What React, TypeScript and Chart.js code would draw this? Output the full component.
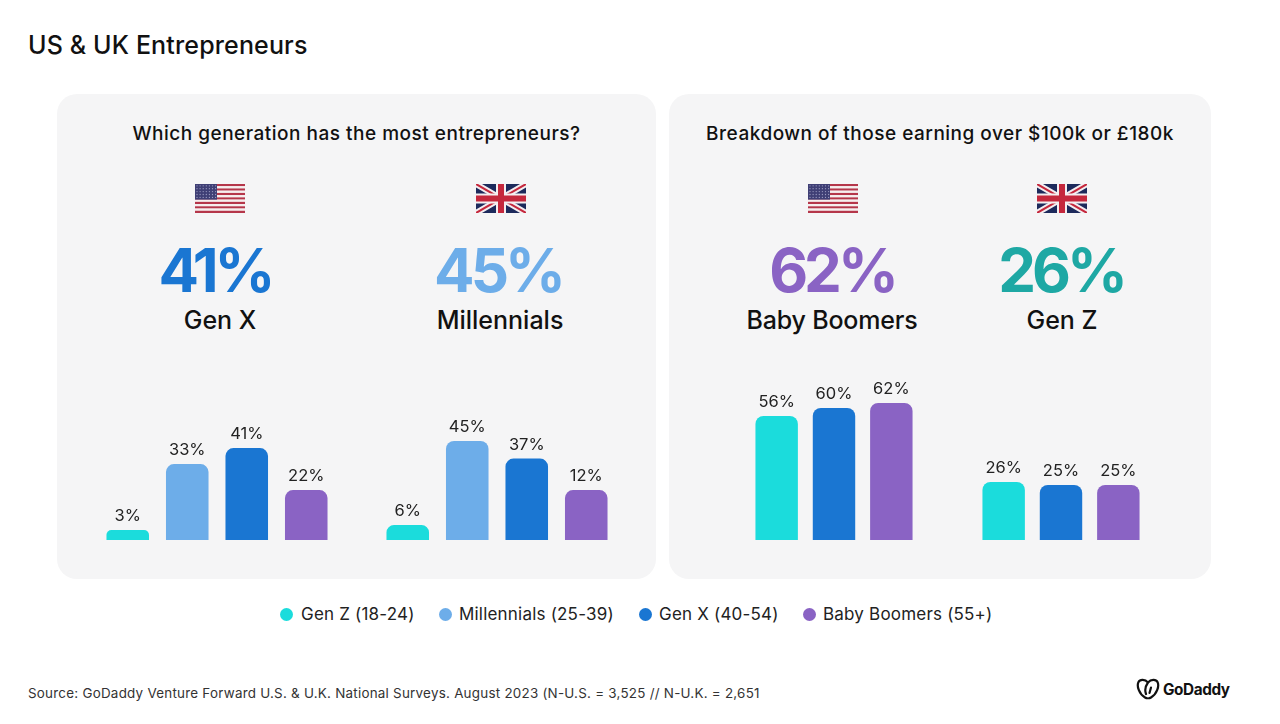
import React, { useEffect, useRef } from "react";
import { Chart, registerables } from "chart.js";

Chart.register(...registerables);

const TEAL = "#1bdcdc";
const SKY = "#6dade9";
const BLUE = "#1a76d2";
const PURPLE = "#8a63c4";
const DEEP_TEAL = "#1ea8a4";
const INK = "#111111";
const FONT = "Inter, 'Noto Sans', sans-serif";

const generations4 = ["Gen Z", "Millennials", "Gen X", "Baby Boomers"];
const generations3 = ["Gen Z", "Gen X", "Baby Boomers"];
const colors4 = [TEAL, SKY, BLUE, PURPLE];
const colors3 = [TEAL, BLUE, PURPLE];

// Printed labels, and bar heights as drawn in the picture (they differ a little from the labels).
const usMostLabels = ["3%", "33%", "41%", "22%"];
const usMostBars = [4.5, 34.5, 41.8, 22.7];
const ukMostLabels = ["6%", "45%", "37%", "12%"];
const ukMostBars = [6.8, 45, 37, 22.7];
const usEarnLabels = ["56%", "60%", "62%"];
const usEarnBars = [56.4, 60, 62.3];
const ukEarnLabels = ["26%", "25%", "25%"];
const ukEarnBars = [26.4, 25, 25];

const legendItems = [
  { label: "Gen Z (18-24)", color: TEAL, dot: 286, text: 301 },
  { label: "Millennials (25-39)", color: SKY, dot: 445, text: 459 },
  { label: "Gen X (40-54)", color: BLUE, dot: 645, text: 659 },
  { label: "Baby Boomers (55+)", color: PURPLE, dot: 809, text: 823 },
];

const BASELINE = 540;
const PLOT_H = 200;
const PX_PER_UNIT = 2.2;

function Bars(props: {
  left: number; width: number; categories: string[]; values: number[]; labels: string[]; colors: string[]; barPct: number;
}) {
  const ref = useRef<HTMLCanvasElement>(null);
  useEffect(() => {
    const chart = new Chart(ref.current!, {
      type: "bar",
      data: {
        labels: props.categories,
        datasets: [{
          data: props.values,
          backgroundColor: props.colors,
          borderRadius: { topLeft: 8, topRight: 8, bottomLeft: 0, bottomRight: 0 },
          borderSkipped: "bottom",
          barPercentage: props.barPct,
          categoryPercentage: 1,
        }],
      },
      options: {
        animation: false,
        responsive: false,
        layout: { padding: 0 },
        plugins: { legend: { display: false }, tooltip: { enabled: false } },
        scales: {
          x: { display: false },
          y: { display: false, min: 0, max: PLOT_H / PX_PER_UNIT },
        },
      },
      plugins: [{
        id: "barLabels",
        afterDatasetsDraw(c: any) {
          const ctx = c.ctx;
          ctx.save();
          ctx.font = `400 16.5px ${FONT}`;
          ctx.fillStyle = "#222222";
          ctx.textAlign = "center";
          ctx.textBaseline = "alphabetic";
          c.getDatasetMeta(0).data.forEach((bar: any, i: number) => {
            ctx.fillText(props.labels[i], bar.x, bar.y - 9);
          });
          ctx.restore();
        },
      }],
    } as any);
    return () => chart.destroy();
  }, []);
  return (
    <canvas
      ref={ref}
      width={props.width}
      height={PLOT_H}
      style={{ position: "absolute", left: props.left, top: BASELINE - PLOT_H, width: props.width, height: PLOT_H, display: "block" }}
    />
  );
}

function Text(props: { x: number; y: number; size: number; weight?: number; color?: string; align?: "left" | "center"; spacing?: number; children: React.ReactNode }) {
  return (
    <div style={{
      position: "absolute", left: props.x, top: props.y,
      transform: `translate(${props.align === "left" ? "0" : "-50%"}, -50%)`,
      fontFamily: FONT, fontSize: props.size, fontWeight: props.weight ?? 400,
      color: props.color ?? INK, whiteSpace: "nowrap", lineHeight: 1, letterSpacing: props.spacing ?? 0,
    }}>{props.children}</div>
  );
}

function UsFlag({ x }: { x: number }) {
  const stripes = [];
  for (let i = 0; i < 13; i++) {
    stripes.push(<rect key={i} x={0} y={i * (29 / 13)} width={50} height={29 / 13} fill={i % 2 ? "#f6eeee" : "#b5364a"} />);
  }
  const stars = [];
  for (let r = 0; r < 5; r++) for (let c = 0; c < 7; c++) {
    stars.push(<circle key={`${r}-${c}`} cx={2 + c * 3.1} cy={1.8 + r * 2.9} r={0.65} fill="#9a9ac0" />);
  }
  return (
    <svg style={{ position: "absolute", left: x, top: 184 }} width={50} height={29} viewBox="0 0 50 29">
      {stripes}
      <rect x={0} y={0} width={22} height={15.6} fill="#3f3f75" />
      {stars}
    </svg>
  );
}

function UkFlag({ x }: { x: number }) {
  return (
    <svg style={{ position: "absolute", left: x, top: 184 }} width={50} height={29} viewBox="0 0 50 29">
      <rect width={50} height={29} fill="#1d2a5c" />
      <path d="M0 0L50 29M50 0L0 29" stroke="#f4eef0" strokeWidth={6} />
      <path d="M0 0L50 29M50 0L0 29" stroke="#c5283d" strokeWidth={2} />
      <path d="M25 0V29M0 14.5H50" stroke="#f4eef0" strokeWidth={10} />
      <path d="M25 0V29M0 14.5H50" stroke="#c5283d" strokeWidth={6} />
    </svg>
  );
}

function Panel({ left, width }: { left: number; width: number }) {
  return <div style={{ position: "absolute", left, top: 94, width, height: 485, background: "#f5f5f6", borderRadius: 20 }} />;
}

function Logo() {
  return (
    <svg style={{ position: "absolute", left: 1136, top: 678 }} width={24} height={22} viewBox="0 0 24 22" fill="none" stroke="#111" strokeWidth={2.2} strokeLinejoin="round" strokeLinecap="round">
      <path d="M12 4.5C9 1 4 1 2.5 4C0.5 8 3 16 9 19.5C10.5 20.5 13.5 20.5 15 19.5C21 16 23.5 8 21.5 4C20 1 15 1 12 4.5C9.5 8 8.5 12 10 16" />
      <path d="M15 9.5L13.5 15" />
    </svg>
  );
}

export default function App() {
  useEffect(() => {
    document.body.style.margin = "0";
    document.body.style.background = "#ffffff";
  }, []);
  return (
    <div style={{ position: "relative", width: 1280, height: 724, overflow: "hidden", background: "#fff" }}>
      <Text x={28} y={45} size={25} weight={500} align="left" spacing={0.15}>US &amp; UK Entrepreneurs</Text>
      <Panel left={57} width={599} />
      <Panel left={669} width={542} />

      <Text x={356.5} y={133} size={19} weight={500} spacing={0.5}>Which generation has the most entrepreneurs?</Text>
      <Text x={940} y={133} size={19} weight={500} spacing={0.5}>Breakdown of those earning over $100k or £180k</Text>

      <UsFlag x={195} />
      <UkFlag x={476} />
      <UsFlag x={808} />
      <UkFlag x={1037} />

      <Text x={215} y={270} size={60} weight={700} color={BLUE} spacing={-4}>41%</Text>
      <Text x={498} y={270} size={60} weight={700} color={SKY} spacing={-4}>45%</Text>
      <Text x={832} y={270} size={60} weight={700} color={PURPLE} spacing={-4}>62%</Text>
      <Text x={1061} y={270} size={60} weight={700} color={DEEP_TEAL} spacing={-4}>26%</Text>

      <Text x={220} y={320} size={25} weight={500}>Gen X</Text>
      <Text x={500} y={320} size={25} weight={500}>Millennials</Text>
      <Text x={832} y={320} size={25} weight={500} spacing={-0.2}>Baby Boomers</Text>
      <Text x={1062} y={320} size={25} weight={500}>Gen Z</Text>

      <Bars left={98} width={238} categories={generations4} values={usMostBars} labels={usMostLabels} colors={colors4} barPct={0.715} />
      <Bars left={378} width={238} categories={generations4} values={ukMostBars} labels={ukMostLabels} colors={colors4} barPct={0.715} />
      <Bars left={748} width={172} categories={generations3} values={usEarnBars} labels={usEarnLabels} colors={colors3} barPct={0.74} />
      <Bars left={975} width={172} categories={generations3} values={ukEarnBars} labels={ukEarnLabels} colors={colors3} barPct={0.74} />

      {legendItems.map((item) => (
        <React.Fragment key={item.label}>
          <div style={{ position: "absolute", left: item.dot - 6.5, top: 607.5, width: 13, height: 13, borderRadius: "50%", background: item.color }} />
          <Text x={item.text} y={614} size={17} align="left" color="#222" spacing={0.2}>{item.label}</Text>
        </React.Fragment>
      ))}

      <Text x={28} y={694} size={13.4} align="left" color="#333" spacing={0.25}>Source: GoDaddy Venture Forward U.S. &amp; U.K. National Surveys. August 2023 (N-U.S. = 3,525 // N-U.K. = 2,651</Text>
      <Logo />
      <Text x={1163} y={690} size={15.3} weight={700} align="left" spacing={-0.4}>GoDaddy</Text>
    </div>
  );
}
